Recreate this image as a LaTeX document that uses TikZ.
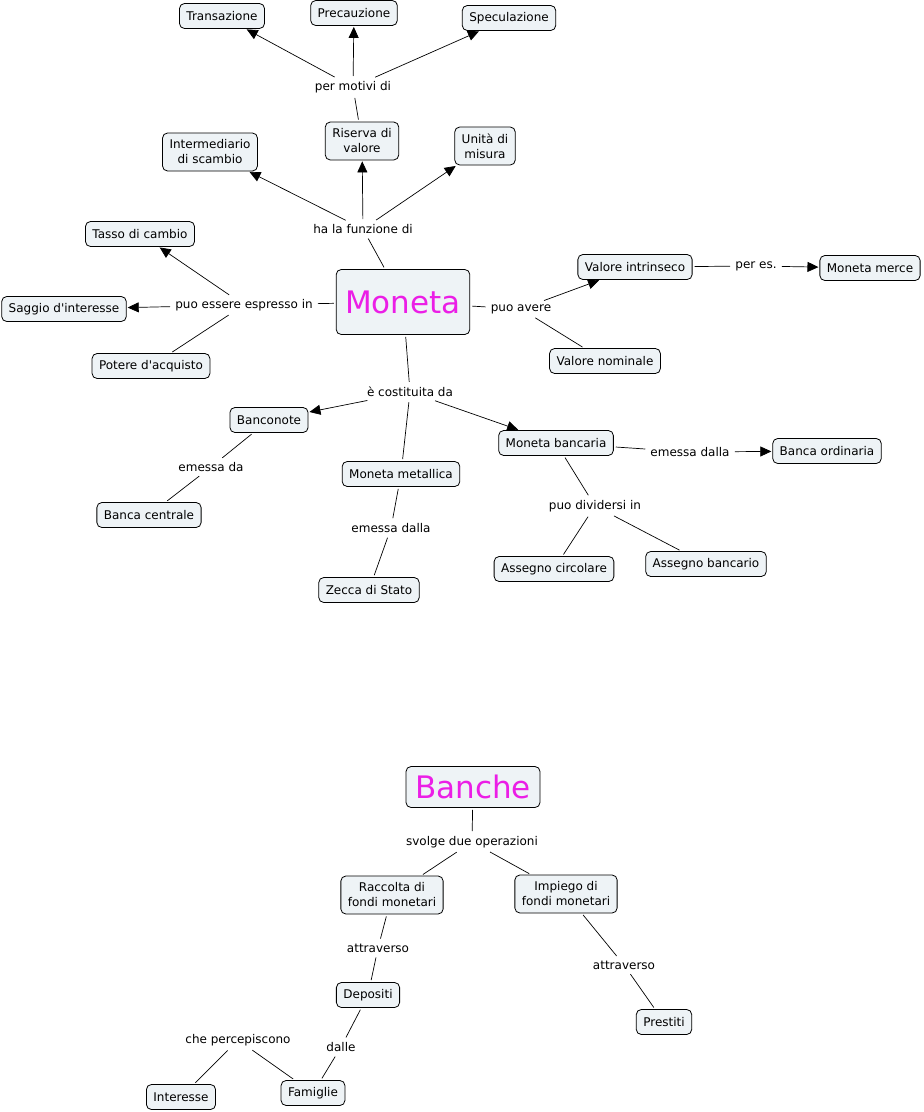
\documentclass[tikz,border=0pt]{standalone}
\usepackage{fontspec}
\setmainfont{DejaVu Sans}[Ligatures=TeXOff]
\usetikzlibrary{arrows.meta}
\definecolor{boxfill}{RGB}{238,243,246}
\definecolor{bigtxt}{RGB}{235,30,230}
\begin{document}
\begin{tikzpicture}[x=1pt,y=-1pt,
  concept/.style={draw=black, fill=boxfill, rounded corners=5pt, line width=0.8pt, inner xsep=7pt, inner ysep=5pt, minimum height=25pt, align=center, font=\fontsize{12}{15}\selectfont},
  twoline/.style={concept, minimum height=38pt},
  big/.style={concept, text=bigtxt, inner xsep=9pt, font=\fontsize{31}{33}\selectfont},
  lbl/.style={inner sep=3pt, font=\fontsize{12}{14}\selectfont},
  ln/.style={draw, line width=0.7pt, shorten <=2pt, shorten >=2pt},
  arr/.style={ln, shorten >=1pt, -{Triangle[length=11pt,width=10pt]}}]
\useasboundingbox[fill=white] (0,0) rectangle (924,1112);

% ---------- Moneta map ----------
\node[big, minimum width=133pt, minimum height=65pt] (moneta) at (403,302) {Moneta};

\node[concept] (trans) at (222,16) {Transazione};
\node[concept] (prec) at (354,13) {Precauzione};
\node[concept] (spec) at (509,18) {Speculazione};
\node[lbl] (pm) at (353,87) {per motivi di};
\node[twoline] (ris) at (362,141) {Riserva di\\valore};
\node[twoline] (inter) at (210,152) {Intermediario\\di scambio};
\node[twoline] (unita) at (485,146) {Unità di\\misura};
\node[lbl] (hf) at (363,229) {ha la funzione di};

\node[concept] (tasso) at (140,234) {Tasso di cambio};
\node[concept] (saggio) at (64,309) {Saggio d'interesse};
\node[lbl] (pe) at (244,305) {puo essere espresso in};
\node[concept] (potere) at (151,366) {Potere d'acquisto};

\node[lbl] (pa) at (521,309) {puo avere};
\node[concept] (vint) at (635,267) {Valore intrinseco};
\node[lbl] (pes) at (756,266) {per es.};
\node[concept] (mmerce) at (870,268) {Moneta merce};
\node[concept] (vnom) at (605,361) {Valore nominale};

\node[lbl] (cd) at (410,392) {è costituita da};
\node[concept] (banc) at (269,420) {Banconote};
\node[concept] (mmet) at (401,474) {Moneta metallica};
\node[concept] (mban) at (556,443) {Moneta bancaria};
\node[lbl] (ed1) at (211,467) {emessa da};
\node[concept] (bcen) at (149,515) {Banca centrale};
\node[lbl] (ed2) at (391,528) {emessa dalla};
\node[concept] (zecca) at (369,590) {Zecca di Stato};
\node[lbl] (ed3) at (690,452) {emessa dalla};
\node[concept] (bord) at (827,451) {Banca ordinaria};
\node[lbl] (pd) at (595,506) {puo dividersi in};
\node[concept] (acirc) at (554,569) {Assegno circolare};
\node[concept] (aban) at (706,564) {Assegno bancario};

\draw[ln] (ris) -- (pm);
\draw[arr] (pm) -- (trans);
\draw[arr] (pm) -- (prec);
\draw[arr] (pm) -- (spec);
\draw[ln] (moneta) -- (hf);
\draw[arr] (hf) -- (inter);
\draw[arr] (hf) -- (ris);
\draw[arr] (hf) -- (unita);
\draw[ln] (moneta) -- (pe);
\draw[arr] (pe) -- (tasso);
\draw[arr] (pe) -- (saggio);
\draw[ln] (pe) -- (potere);
\draw[ln] (moneta) -- (pa);
\draw[arr] (pa) -- (vint);
\draw[ln] (pa) -- (vnom);
\draw[ln] (vint) -- (pes);
\draw[arr] (pes) -- (mmerce);
\draw[ln] (moneta) -- (cd);
\draw[arr] (cd) -- (banc);
\draw[ln] (cd) -- (mmet);
\draw[arr] (cd) -- (mban);
\draw[ln] (banc) -- (ed1);
\draw[ln] (ed1) -- (bcen);
\draw[ln] (mmet) -- (ed2);
\draw[ln] (ed2) -- (zecca);
\draw[ln] (mban) -- (ed3);
\draw[arr] (ed3) -- (bord);
\draw[ln] (mban) -- (pd);
\draw[ln] (pd) -- (acirc);
\draw[ln] (pd) -- (aban);

% ---------- Banche map ----------
\node[big, minimum width=134pt, minimum height=41pt] (banche) at (473,787) {Banche};
\node[lbl] (sv) at (472,842) {svolge due operazioni};
\node[twoline] (racc) at (392,895) {Raccolta di\\fondi monetari};
\node[twoline] (imp) at (566,894) {Impiego di\\fondi monetari};
\node[lbl] (at1) at (378,948) {attraverso};
\node[concept] (dep) at (368,995) {Depositi};
\node[lbl] (at2) at (624,965) {attraverso};
\node[concept] (prest) at (664,1022) {Prestiti};
\node[lbl] (dalle) at (341,1047) {dalle};
\node[lbl] (cp) at (238,1040) {che percepiscono};
\node[concept] (inte) at (181,1097) {Interesse};
\node[concept] (fam) at (313,1093) {Famiglie};

\draw[ln] (banche) -- (sv);
\draw[ln] (sv) -- (racc);
\draw[ln] (sv) -- (imp);
\draw[ln] (racc) -- (at1);
\draw[ln] (at1) -- (dep);
\draw[ln] (imp) -- (at2);
\draw[ln] (at2) -- (prest);
\draw[ln] (dep) -- (dalle);
\draw[ln] (dalle) -- (fam);
\draw[ln] (fam) -- (cp);
\draw[ln] (cp) -- (inte);
\end{tikzpicture}
\end{document}
